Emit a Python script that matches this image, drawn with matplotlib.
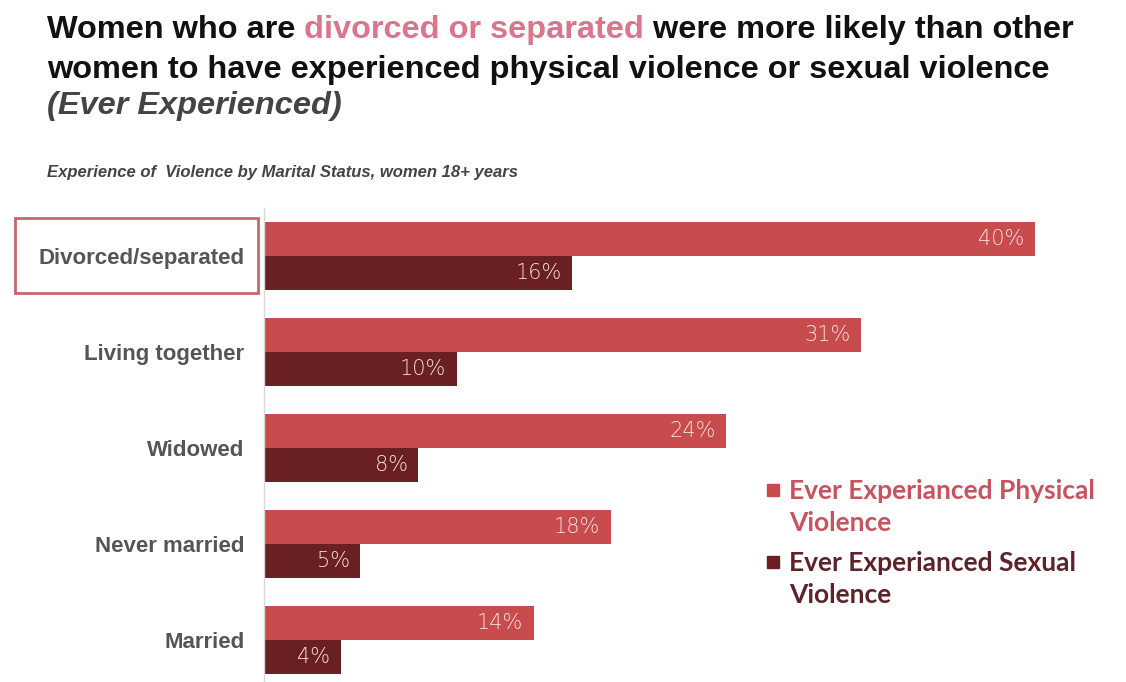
import matplotlib
matplotlib.use("Agg")
import matplotlib.pyplot as plt
from matplotlib.patches import Rectangle
import numpy as np

categories = ["Divorced/separated", "Living together", "Widowed", "Never married", "Married"]
physical = [40, 31, 24, 18, 14]
sexual = [16, 10, 8, 5, 4]
physical_labels = ["40%", "31%", "24%", "18%", "14%"]
sexual_labels = ["16%", "10%", "8%", "5%", "4%"]
legend_labels = ["Ever Experianced Physical\nViolence", "Ever Experianced Sexual\nViolence"]

c_phys = "#C84B4E"
c_sex = "#6A1F22"

W, H = 1126, 682
fig = plt.figure(figsize=(W / 100, H / 100), dpi=100)
fig.patch.set_facecolor("white")

# axes placed in pixel terms
ax_left, ax_right = 264, 1100
ax_top, ax_bottom = 208, 693
ax = fig.add_axes([ax_left / W, 1 - ax_bottom / H, (ax_right - ax_left) / W, (ax_bottom - ax_top) / H])
px_per_unit = 19.27
ax.set_xlim(0, (ax_right - ax_left) / px_per_unit)
ax.set_ylim(4.55, -0.5)

y = np.arange(len(categories))
h = 0.355
ax.barh(y - h / 2, physical, height=h, color=c_phys)
ax.barh(y + h / 2, sexual, height=h, color=c_sex)

for i in range(len(categories)):
    ax.text(physical[i] - 0.55, y[i] - h / 2, physical_labels[i], ha="right", va="center",
            color="#F8E1E1", fontsize=15, fontweight="light", family="DejaVu Sans")
    ax.text(sexual[i] - 0.55, y[i] + h / 2, sexual_labels[i], ha="right", va="center",
            color="#F6E0E0", fontsize=15, fontweight="light", family="DejaVu Sans")

ax.set_yticks(y)
ax.set_yticklabels(categories, fontsize=16, fontweight="bold", color="#555555", family="Liberation Sans")
ax.tick_params(axis="y", length=0, pad=14)
ax.set_xticks([])
for s in ["top", "right", "bottom"]:
    ax.spines[s].set_visible(False)
ax.spines["left"].set_color("#D8D8D8")
ax.spines["left"].set_linewidth(1)

# box around Divorced/separated label
fig.patches.append(Rectangle((15 / W, 1 - 293 / H), 243 / W, 75 / H, transform=fig.transFigure,
                             fill=False, edgecolor="#C9666B", linewidth=2))

# legend drawn by hand so the square sits on the first text line
for lab, sq, tc, ypx in zip(legend_labels, [c_phys, c_sex], ["#C8535E", "#5E2229"], [490, 562]):
    fig.patches.append(Rectangle((767 / W, 1 - (ypx + 6) / H), 12 / W, 12 / H,
                                 transform=fig.transFigure, color=sq))
    fig.text(789 / W, 1 - (ypx - 11) / H, lab, fontsize=19, fontweight="bold", family="Lato",
             color=tc, va="top", ha="left", linespacing=1.4)

# title with coloured segment
fig.canvas.draw()
r = fig.canvas.get_renderer()
x0 = 47 / W
yline1 = 1 - 30 / H
tsize = 23.4
parts = [("Women who are ", "#111111"), ("divorced or separated", "#D9768C"),
         (" were more likely than other", "#111111")]
x = x0
for s, c in parts:
    t = fig.text(x, yline1, s, fontsize=tsize, fontweight="bold", color=c,
                 family="Liberation Sans", va="center", ha="left")
    bb = t.get_window_extent(renderer=r)
    x = bb.x1 / (W)
fig.text(x0, 1 - 70 / H, "women to have experienced physical violence or sexual violence", fontsize=tsize,
         fontweight="bold", color="#111111", family="Liberation Sans", va="center")
fig.text(x0, 1 - 106 / H, "(Ever Experienced)", fontsize=tsize, fontweight="bold", style="italic",
         color="#444444", family="Liberation Sans", va="center")
fig.text(x0, 1 - 173 / H, "Experience of  Violence by Marital Status, women 18+ years", fontsize=12,
         fontweight="bold", style="italic", color="#444444", family="Liberation Sans", va="center")

fig.savefig("out.png", dpi=100)
